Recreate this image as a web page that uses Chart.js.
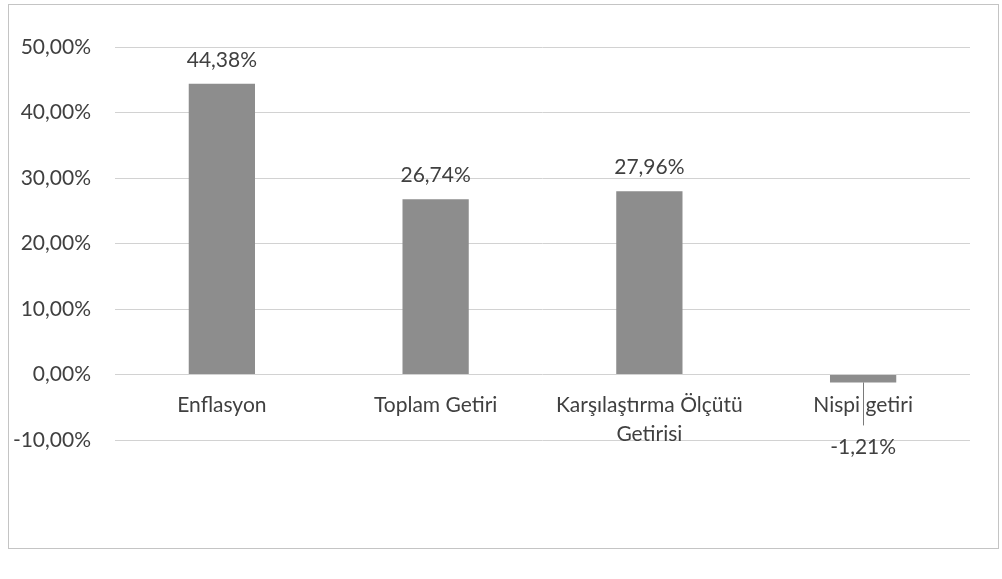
<!DOCTYPE html>
<html>
<head>
<meta charset="utf-8">
<script src="https://cdn.jsdelivr.net/npm/chart.js@4"></script>
<style>
  html, body { margin: 0; padding: 0; background: #fff; }
  #wrap { width: 1002px; height: 579px; }
</style>
</head>
<body>
<div id="wrap"><canvas id="chart" width="1002" height="579"></canvas></div>
<script>
const categories = ['Enflasyon', 'Toplam Getiri', ['Karşılaştırma Ölçütü', 'Getirisi'], 'Nispi getiri'];
const values = [44.38, 26.74, 27.96, -1.21];
const yTicks = [-10, 0, 10, 20, 30, 40, 50];

const textColor = '#404040';
const fontFamily = 'Lato, "Open Sans", sans-serif';

function pct(v) {
  return v.toFixed(2).replace('.', ',') + '%';
}

// frame around the whole chart, like the Excel chart border
const framePlugin = {
  id: 'frame',
  beforeDraw(chart) {
    const ctx = chart.ctx;
    ctx.save();
    ctx.fillStyle = '#fff';
    ctx.fillRect(0, 0, chart.width, chart.height);
    ctx.strokeStyle = '#c4c4c4';
    ctx.lineWidth = 1;
    ctx.strokeRect(8.5, 4.5, 990, 544);
    ctx.restore();
  }
};

// value labels above / below the bars
const valueLabels = {
  id: 'valueLabels',
  afterDatasetsDraw(chart) {
    const ctx = chart.ctx;
    const meta = chart.getDatasetMeta(0);
    ctx.save();
    ctx.font = '21px ' + fontFamily;
    ctx.fillStyle = textColor;
    ctx.textAlign = 'center';
    ctx.textBaseline = 'middle';
    meta.data.forEach((bar, i) => {
      const v = values[i];
      if (v >= 0) {
        ctx.fillText(pct(v), bar.x, bar.y - 24);
      } else {
        // label was dragged down in the original, with a leader line
        const ly = bar.y + 65;
        ctx.strokeStyle = '#7a7a7a';
        ctx.lineWidth = 1;
        ctx.beginPath();
        ctx.moveTo(Math.round(bar.x) + 0.5, bar.y);
        ctx.lineTo(Math.round(bar.x) + 0.5, ly - 22);
        ctx.stroke();
        ctx.fillText(pct(v), bar.x, ly);
      }
    });
    ctx.restore();
  }
};

new Chart(document.getElementById('chart'), {
  type: 'bar',
  data: {
    labels: categories,
    datasets: [{
      data: values,
      backgroundColor: '#8d8d8d',
      borderWidth: 0,
      barPercentage: 0.62,
      categoryPercentage: 0.5
    }]
  },
  plugins: [framePlugin, valueLabels],
  options: {
    responsive: false,
    animation: false,
    layout: { padding: { top: 47, right: 32, bottom: 139, left: 14 } },
    plugins: {
      legend: { display: false },
      tooltip: { enabled: false }
    },
    scales: {
      x: {
        position: { y: 0 },
        grid: { display: false, drawTicks: false },
        border: { display: false },
        ticks: {
          color: textColor,
          font: { family: fontFamily, size: 21, lineHeight: 1.35 },
          padding: 17,
          maxRotation: 0,
          autoSkip: false
        }
      },
      y: {
        min: -10,
        max: 50,
        afterFit(scale) { scale.width = 101; },
        afterBuildTicks(scale) { scale.ticks = yTicks.map(v => ({ value: v })); },
        grid: { color: '#d2d2d2', lineWidth: 1, drawTicks: false },
        border: { display: false },
        ticks: {
          color: textColor,
          font: { family: fontFamily, size: 21 },
          padding: 24,
          callback: v => pct(v)
        }
      }
    }
  }
});
</script>
</body>
</html>
